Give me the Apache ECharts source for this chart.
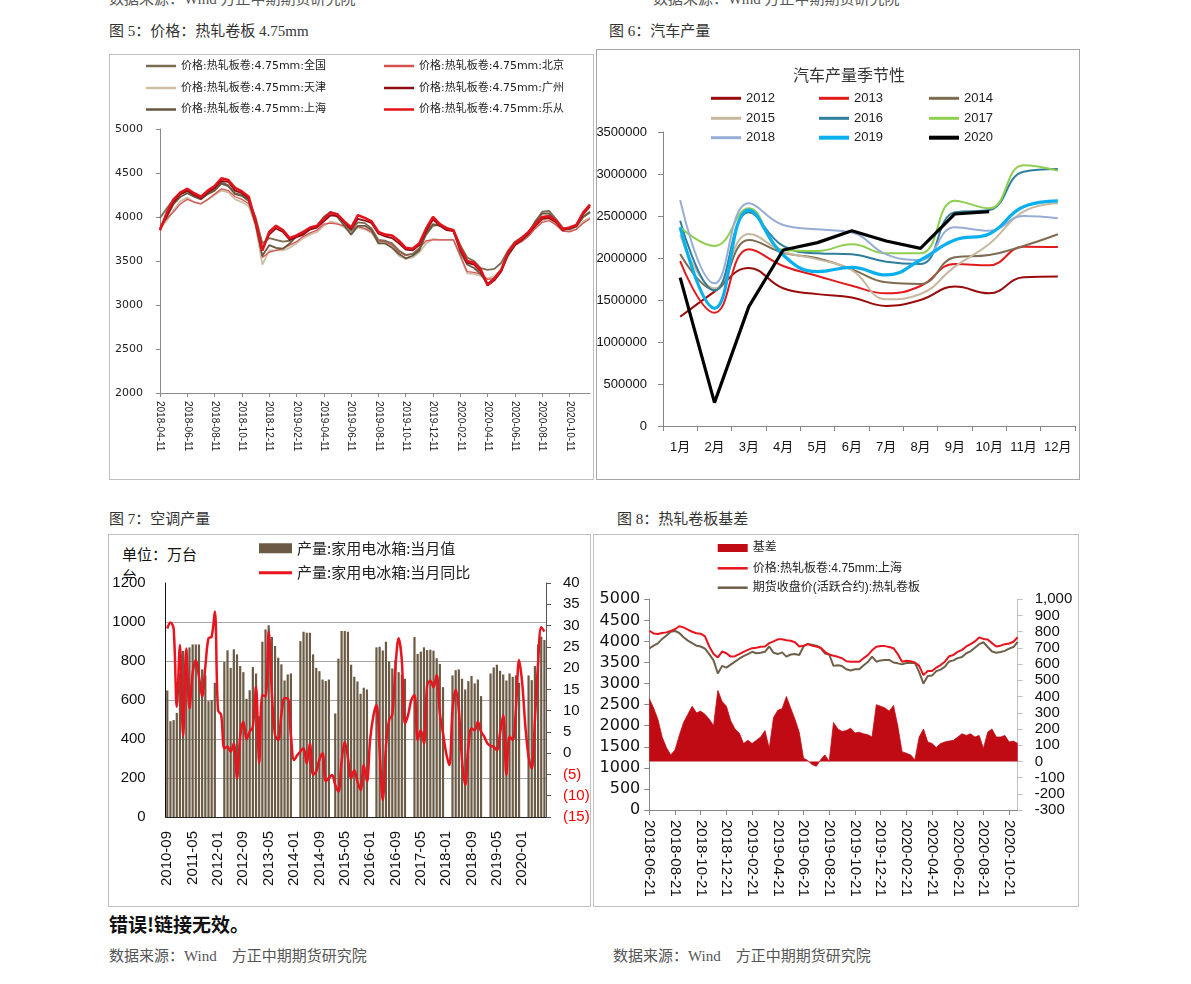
<!DOCTYPE html>
<html><head><meta charset="utf-8">
<script src="https://cdn.jsdelivr.net/npm/echarts@6/dist/echarts.min.js"></script>
<style>
body{margin:0;background:#fff;width:1191px;height:984px;position:relative;overflow:hidden;}
.t{position:absolute;white-space:nowrap;font-size:15px;line-height:20px;color:#333;font-family:"Liberation Serif","Noto Sans CJK SC",serif;}
.box{position:absolute;box-sizing:border-box;border:1px solid #BFBFBF;}
.ch{position:absolute;}
.s{position:absolute;white-space:nowrap;font-size:15px;line-height:20px;color:#111;font-family:"Noto Sans CJK SC",sans-serif;}
</style></head><body>
<div class="t" style="left:109px;top:-11px;color:#555">数据来源：Wind 方正中期期货研究院</div>
<div class="t" style="left:653px;top:-11px;color:#555">数据来源：Wind 方正中期期货研究院</div>
<div class="t" style="left:109px;top:21px">图 5：价格：热轧卷板 4.75mm</div>
<div class="t" style="left:609px;top:21px">图 6：汽车产量</div>
<div class="t" style="left:109px;top:509px">图 7：空调产量</div>
<div class="t" style="left:617px;top:509px">图 8：热轧卷板基差</div>
<div class="t" style="left:109px;top:914px;font-size:19px;font-weight:bold;color:#111;font-family:'Noto Sans CJK SC',sans-serif">错误!链接无效。</div>
<div class="t" style="left:109px;top:946px;color:#555">数据来源：Wind　方正中期期货研究院</div>
<div class="t" style="left:613px;top:946px;color:#555">数据来源：Wind　方正中期期货研究院</div>

<div class="box" style="left:109px;top:54px;width:485px;height:426px"></div>
<div class="box" style="left:596px;top:49px;width:484px;height:431px;border-color:#A6A6A6"></div>
<div class="box" style="left:108px;top:534px;width:483px;height:373px"></div>
<div class="box" style="left:593px;top:534px;width:486px;height:373px"></div>

<div class="s" style="left:122px;top:544px">单位：万台</div>
<div class="s" style="left:122px;top:566px;height:12px;overflow:hidden">台</div>

<div id="c1" class="ch" style="left:109px;top:54px;width:485px;height:426px"></div>
<div id="c2" class="ch" style="left:596px;top:49px;width:484px;height:430px"></div>
<div id="c3" class="ch" style="left:108px;top:534px;width:482px;height:373px"></div>
<div id="c4" class="ch" style="left:593px;top:534px;width:485px;height:373px"></div>

<script>
// ---------- Chart 1: 热轧卷板 4.75mm prices ----------
const c1Dates = "2018-04-11 2018-04-26 2018-05-11 2018-05-26 2018-06-11 2018-06-26 2018-07-11 2018-07-26 2018-08-11 2018-08-26 2018-09-11 2018-09-26 2018-10-11 2018-10-26 2018-11-11 2018-11-26 2018-12-11 2018-12-26 2019-01-11 2019-01-26 2019-02-11 2019-02-26 2019-03-11 2019-03-26 2019-04-11 2019-04-26 2019-05-11 2019-05-26 2019-06-11 2019-06-26 2019-07-11 2019-07-26 2019-08-11 2019-08-26 2019-09-11 2019-09-26 2019-10-11 2019-10-26 2019-11-11 2019-11-26 2019-12-11 2019-12-26 2020-01-11 2020-01-26 2020-02-11 2020-02-26 2020-03-11 2020-03-26 2020-04-11 2020-04-26 2020-05-11 2020-05-26 2020-06-11 2020-06-26 2020-07-11 2020-07-26 2020-08-11 2020-08-26 2020-09-11 2020-09-26 2020-10-11 2020-10-26 2020-11-11 2020-11-18".split(" ");
const c1Quanguo = [3990,4100,4200,4260,4290,4240,4220,4270,4310,4400,4360,4270,4250,4190,4000,3700,3760,3740,3720,3730,3780,3820,3860,3890,3980,4050,4010,3930,3840,3940,3930,3870,3740,3730,3700,3620,3570,3580,3640,3800,3900,3910,3880,3850,3680,3540,3500,3420,3400,3410,3480,3620,3720,3770,3830,3950,4060,4070,3980,3880,3870,3900,4000,4050];
const c1Beijing = [3900,3980,4060,4150,4200,4170,4150,4200,4260,4320,4300,4230,4200,4150,3950,3540,3600,3620,3640,3680,3720,3780,3820,3850,3920,3930,3920,3900,3850,3890,3870,3830,3720,3720,3680,3600,3560,3580,3650,3730,3740,3740,3740,3740,3560,3380,3370,3350,3290,3300,3380,3570,3680,3720,3780,3870,3940,3960,3910,3840,3830,3860,3930,3980];
const c1Tianjin = [3870,3960,4080,4180,4220,4170,4150,4200,4250,4300,4280,4200,4170,4120,3900,3460,3620,3620,3620,3650,3700,3760,3800,3830,3900,3950,3930,3880,3820,3880,3860,3820,3700,3700,3660,3560,3520,3540,3600,3700,3750,3740,3740,3740,3550,3360,3350,3330,3300,3330,3400,3580,3680,3730,3790,3880,3960,3980,3920,3840,3840,3860,3950,3990];
const c1Guangzhou = [3860,4020,4170,4260,4300,4250,4210,4280,4330,4410,4400,4300,4270,4210,3940,3640,3800,3870,3830,3740,3770,3800,3860,3880,3950,4020,4010,3940,3860,3980,3960,3930,3810,3780,3760,3700,3630,3620,3680,3840,3970,3900,3850,3840,3630,3480,3460,3380,3220,3280,3380,3580,3680,3740,3810,3900,3980,3990,3940,3850,3870,3900,4030,4120];
const c1Shanghai = [3870,4000,4150,4230,4270,4230,4200,4260,4300,4380,4350,4260,4240,4180,3920,3560,3680,3650,3640,3700,3780,3820,3860,3900,4000,4060,4000,3900,3800,3900,3900,3850,3700,3700,3650,3580,3530,3560,3620,3820,3920,3900,3870,3840,3600,3460,3420,3350,3240,3310,3400,3560,3680,3740,3810,3950,4040,4040,3960,3860,3860,3890,4000,4060];
const c1Lecong = [3850,4050,4200,4280,4320,4270,4230,4300,4350,4440,4420,4330,4290,4230,3950,3620,3830,3900,3850,3760,3790,3830,3880,3900,3980,4050,4030,3950,3880,4020,3990,3950,3830,3800,3790,3730,3650,3640,3700,3870,4000,3920,3870,3850,3650,3500,3480,3400,3230,3300,3400,3600,3700,3760,3830,3920,4000,4010,3960,3860,3880,3910,4050,4140];
const c1Names = ['价格:热轧板卷:4.75mm:全国','价格:热轧板卷:4.75mm:北京','价格:热轧板卷:4.75mm:天津','价格:热轧板卷:4.75mm:广州','价格:热轧板卷:4.75mm:上海','价格:热轧板卷:4.75mm:乐从'];

// ---------- Chart 2: 汽车产量季节性 ----------
const c2Months = ['1月','2月','3月','4月','5月','6月','7月','8月','9月','10月','11月','12月'];
const c2Years = ['2012','2013','2014','2015','2016','2017','2018','2019','2020'];
const y2012 = [1300000,1600000,1880000,1640000,1570000,1530000,1430000,1500000,1660000,1580000,1770000,1780000];
const y2013 = [1964000,1349000,2103000,1905000,1786000,1670000,1580000,1667000,1929000,1913000,2135000,2131000];
const y2014 = [2048000,1619000,2214000,2063000,1996000,1865000,1710000,1690000,2008000,2036000,2143000,2282000];
const y2015 = [2274000,1639000,2286000,2075000,1984000,1857000,1508000,1571000,1897000,2167000,2552000,2651000];
const y2016 = [2444000,1611000,2544000,2143000,2056000,2044000,1956000,1929000,2544000,2571000,3028000,3060000];
const y2017 = [2365000,2143000,2591000,2095000,2083000,2163000,2056000,2056000,2683000,2591000,3103000,3040000];
const y2018 = [2690000,1698000,2651000,2393000,2341000,2302000,2044000,1976000,2365000,2325000,2500000,2472000];
const y2019 = [2365000,1401000,2571000,2036000,1837000,1889000,1798000,1976000,2214000,2286000,2611000,2679000];
const y2020 = [1766000,278000,1421000,2095000,2183000,2325000,2202000,2115000,2524000,2552000];

// ---------- Chart 3: 家用电冰箱 产量 ----------
const c3Months = ("2010-09 2010-10 2010-11 2010-12 " +
 "2011-01 2011-02 2011-03 2011-04 2011-05 2011-06 2011-07 2011-08 2011-09 2011-10 2011-11 2011-12 " +
 "2012-01 2012-02 2012-03 2012-04 2012-05 2012-06 2012-07 2012-08 2012-09 2012-10 2012-11 2012-12 " +
 "2013-01 2013-02 2013-03 2013-04 2013-05 2013-06 2013-07 2013-08 2013-09 2013-10 2013-11 2013-12 " +
 "2014-01 2014-02 2014-03 2014-04 2014-05 2014-06 2014-07 2014-08 2014-09 2014-10 2014-11 2014-12 " +
 "2015-01 2015-02 2015-03 2015-04 2015-05 2015-06 2015-07 2015-08 2015-09 2015-10 2015-11 2015-12 " +
 "2016-01 2016-02 2016-03 2016-04 2016-05 2016-06 2016-07 2016-08 2016-09 2016-10 2016-11 2016-12 " +
 "2017-01 2017-02 2017-03 2017-04 2017-05 2017-06 2017-07 2017-08 2017-09 2017-10 2017-11 2017-12 " +
 "2018-01 2018-02 2018-03 2018-04 2018-05 2018-06 2018-07 2018-08 2018-09 2018-10 2018-11 2018-12 " +
 "2019-01 2019-02 2019-03 2019-04 2019-05 2019-06 2019-07 2019-08 2019-09 2019-10 2019-11 2019-12 " +
 "2020-01 2020-02 2020-03 2020-04 2020-05 2020-06 2020-07 2020-08").split(" ");
const c3Output = [649,491,497,534,
 740,852,855,870,885,885,885,757,726,594,600,688,
 null,null,795,855,765,860,834,774,743,606,650,769,
 736,517,899,962,983,923,877,817,783,700,731,736,
 null,null,902,950,945,945,834,765,748,705,697,705,
 null,531,812,954,954,950,781,719,695,632,663,654,
 null,null,870,873,854,899,798,762,805,743,730,709,
 null,null,923,836,848,870,856,858,853,814,785,666,
 null,null,726,753,757,709,654,697,723,685,705,620,
 null,null,736,767,781,750,731,700,736,719,726,688,
 null,null,726,702,774,885,925,908];
const c3Yoy = [29.3,30.7,29.3,10.9,
 25.4,3.9,24.6,10.5,18.8,21.9,18.0,13.3,20.3,27.0,27.4,33.3,
 10.1,9.0,1.1,1.5,0.4,2.3,-5.9,3.9,7.4,3.3,5.1,6.2,
 15.6,-2.4,13.7,13.3,28.6,14.1,4.3,3.1,9.0,12.9,12.9,4.3,
 -1.6,-0.5,0.4,1.2,-2.5,2.3,-5.1,-4.3,-1.5,0,-6.6,-5.8,
 -5.1,-7.5,-9.0,-2.0,2.7,-1.0,-5.9,-4.0,-6.7,-8.7,-2.8,-6.7,
 3.1,8.6,11.3,0.7,-11.0,1.5,7.8,9.0,20.3,27.0,21.9,7.0,
 9.0,12.5,13.7,3.1,5.4,2.3,16.0,17.0,15.5,18.4,9.4,4.7,
 0,-2.8,10.1,14.9,10.1,-1.6,-7.5,1.5,5.8,5.4,7.4,5.1,
 3.9,2.3,1.7,1.5,0.7,4.7,9.0,-5.1,3.9,3.1,10.1,21.9,
 16.4,6.2,-0.8,-3.6,7.8,21.1,29.6,28.6];
const c3Names = ['产量:家用电冰箱:当月值','产量:家用电冰箱:当月同比'];

// ---------- Chart 4: 热轧卷板基差 ----------
const c4Dates = "2018-06-21 2018-07-01 2018-07-11 2018-07-21 2018-08-01 2018-08-11 2018-08-21 2018-09-01 2018-09-11 2018-09-21 2018-10-01 2018-10-11 2018-10-21 2018-11-01 2018-11-11 2018-11-21 2018-12-01 2018-12-11 2018-12-21 2019-01-01 2019-01-11 2019-01-21 2019-02-01 2019-02-11 2019-02-21 2019-03-01 2019-03-11 2019-03-21 2019-04-01 2019-04-11 2019-04-21 2019-05-01 2019-05-11 2019-05-21 2019-06-01 2019-06-11 2019-06-21 2019-07-01 2019-07-11 2019-07-21 2019-08-01 2019-08-11 2019-08-21 2019-09-01 2019-09-11 2019-09-21 2019-10-01 2019-10-11 2019-10-21 2019-11-01 2019-11-11 2019-11-21 2019-12-01 2019-12-11 2019-12-21 2020-01-01 2020-01-11 2020-01-21 2020-02-01 2020-02-11 2020-02-21 2020-03-01 2020-03-11 2020-03-21 2020-04-01 2020-04-11 2020-04-21 2020-05-01 2020-05-11 2020-05-21 2020-06-01 2020-06-11 2020-06-21 2020-07-01 2020-07-11 2020-07-21 2020-08-01 2020-08-11 2020-08-21 2020-09-01 2020-09-11 2020-09-21 2020-10-01 2020-10-11 2020-10-21 2020-11-01 2020-11-11".split(" ");
const c4Spot = [4254,4190,4175,4200,4215,4250,4290,4360,4333,4280,4230,4195,4185,4120,3880,3700,3620,3760,3720,3640,3650,3700,3754,3800,3840,3850,3873,3880,3960,4000,4050,4050,4030,4016,3980,3880,3900,3936,3900,3880,3850,3754,3690,3660,3635,3600,3530,3516,3516,3520,3600,3675,3790,3873,3890,3889,3870,3840,3700,3516,3540,3530,3500,3420,3200,3300,3300,3380,3440,3520,3650,3680,3754,3800,3880,3936,4000,4095,4060,4048,3960,3880,3900,3936,3950,3992,4100];
const c4Futures = [3833,3900,3955,4060,4140,4230,4250,4200,4100,4020,3960,3900,3880,3830,3700,3550,3240,3420,3380,3450,3520,3590,3650,3700,3754,3720,3730,3754,3880,3730,3700,3740,3640,3690,3700,3680,3880,3940,3920,3900,3840,3714,3690,3420,3435,3415,3340,3310,3340,3340,3430,3510,3640,3520,3550,3560,3560,3500,3480,3456,3490,3490,3490,3270,3000,3180,3190,3295,3330,3400,3525,3550,3604,3630,3720,3766,3850,3935,3980,3868,3760,3730,3750,3776,3830,3867,3990];
const c4Basis = [387,330,260,150,85,40,70,160,240,290,340,300,310,290,260,220,438,370,340,250,200,175,110,130,110,130,150,190,80,270,315,325,400,330,260,180,20,5,-20,-30,10,40,0,240,200,185,190,205,175,180,170,165,150,350,340,330,310,345,220,60,50,40,10,150,200,120,110,85,110,120,125,130,150,170,160,170,150,160,80,180,200,150,150,160,120,125,110];
const c4Names = ['基差','价格:热轧板卷:4.75mm:上海','期货收盘价(活跃合约):热轧卷板'];

const CJK = '"Noto Sans CJK SC"';
const fDV = '"DejaVu Sans",' + CJK + ',sans-serif';
const fLS = '"Liberation Sans",' + CJK + ',sans-serif';
const plain = v => String(v);

// one legend component per item, so every entry sits where the reference puts it
function oneLegend(name, left, centerY, fontSize, iconH, fontFamily, iconW) {
  return {left:left, top:centerY - fontSize / 2, padding:0, itemWidth:iconW, itemHeight:iconH, itemGap:0,
    textStyle:{fontSize:fontSize, fontFamily:fontFamily, color:'#222'},
    data:[{name:name, icon:'rect'}]};
}

// ===== Chart 1 =====
(function(){
  const ch = echarts.init(document.getElementById('c1'));
  const cols = ['#7B6B51','#D65252','#CDBFA6','#8C0E12','#66573E','#E3111B'];
  const datas = [c1Quanguo,c1Beijing,c1Tianjin,c1Guangzhou,c1Shanghai,c1Lecong];
  const widths = [1.8,1.3,1.8,1.8,1.8,2.6];
  const legLeft = [37,275,37,275,37,275];
  const legCy = [12,12,34,34,55.5,55.5];
  const drawOrder = [2,1,0,4,3,5];
  ch.setOption({
    animation:false,
    grid:{left:51, top:75, width:430, height:264, containLabel:false, outerBoundsMode:'none'},
    legend: c1Names.map((n,i) => oneLegend(n, legLeft[i], legCy[i], 11, 2.5, fDV, 30)),
    xAxis:{type:'category', data:c1Dates, boundaryGap:false,
      axisLine:{lineStyle:{color:'#8A8A8A'}},
      axisTick:{interval:(i)=>i%4===0, length:4, lineStyle:{color:'#8A8A8A'}},
      axisLabel:{interval:(i)=>i%4===0, rotate:-90, fontSize:10, fontFamily:fLS, color:'#222', margin:8}},
    yAxis:{type:'value', min:2000, max:5000, interval:500, splitLine:{show:false},
      axisLine:{show:true, lineStyle:{color:'#8A8A8A'}},
      axisTick:{show:true, length:4, lineStyle:{color:'#8A8A8A'}},
      axisLabel:{fontSize:11, fontFamily:fDV, color:'#222', margin:17, formatter:plain}},
    series: drawOrder.map(i => ({name:c1Names[i], type:'line', data:datas[i], symbol:'none',
      lineStyle:{color:cols[i], width:widths[i]}, itemStyle:{color:cols[i]}}))
  });
})();

// ===== Chart 2 =====
(function(){
  const ch = echarts.init(document.getElementById('c2'));
  const yData = [y2012,y2013,y2014,y2015,y2016,y2017,y2018,y2019,y2020];
  const colors = ['#990A0A','#E31A1C','#7F6B50','#C7B99F','#2F7F9C','#8ED04E','#98ADD5','#0AB0EE','#000000'];
  const widths = [2,2,2,2,2,2,2,3.2,3.2];
  const colLeft = [115,223,333];
  const rowCy = [49.3,69.3,88.7];
  ch.setOption({
    animation:false,
    graphic:[{type:'text', x:253, y:26, style:{text:'汽车产量季节性', font:'16px "Noto Sans CJK SC"', fill:'#333',
      textAlign:'center', align:'center', textVerticalAlign:'middle', verticalAlign:'middle'}}],
    grid:{left:67, top:83, width:412, height:294, containLabel:false, outerBoundsMode:'none'},
    legend: c2Years.map((y,i) => oneLegend(y, colLeft[i%3], rowCy[Math.floor(i/3)], 13, i>=7 ? 4 : 3, fLS, 30)),
    xAxis:{type:'category', data:c2Months, boundaryGap:true,
      axisLine:{lineStyle:{color:'#868686'}},
      axisTick:{show:true, length:5, lineStyle:{color:'#868686'}},
      axisLabel:{interval:0, fontSize:13, fontFamily:fLS, color:'#111', margin:15}},
    yAxis:{type:'value', min:0, max:3500000, interval:500000, splitLine:{show:false},
      axisLine:{show:true, lineStyle:{color:'#868686'}},
      axisTick:{show:true, length:5, lineStyle:{color:'#868686'}},
      axisLabel:{fontSize:13, fontFamily:fLS, color:'#111', margin:16, formatter:plain}},
    series: c2Years.map((y,i) => ({name:y, type:'line', data:yData[i], symbol:'none',
      smooth: i===8 ? false : 0.45,
      lineStyle:{color:colors[i], width:widths[i]}, itemStyle:{color:colors[i]}, z: i===8 ? 5 : (i===7 ? 4 : 2)}))
  });
})();

// ===== Chart 3 =====
(function(){
  const ch = echarts.init(document.getElementById('c3'));
  ch.setOption({
    animation:false,
    grid:{left:57.7, top:49, width:380.3, height:234, containLabel:false, outerBoundsMode:'none'},
    legend:[oneLegend(c3Names[0], 151, 14.3, 15, 10, CJK + ',sans-serif', 33),
            oneLegend(c3Names[1], 151, 38.7, 15, 3, CJK + ',sans-serif', 33)],
    xAxis:{type:'category', data:c3Months, boundaryGap:true,
      axisLine:{lineStyle:{color:'#222'}},
      axisTick:{interval:7, length:5, lineStyle:{color:'#444'}},
      axisLabel:{interval:7, rotate:90, fontSize:15, fontFamily:fLS, color:'#111', margin:14}},
    yAxis:[{type:'value', min:0, max:1200, interval:200,
      splitLine:{show:true, showMaxLine:false, lineStyle:{color:'#A6A6A6', width:1}},
      axisLine:{show:true, lineStyle:{color:'#111'}}, axisTick:{show:false},
      axisLabel:{fontSize:15, fontFamily:fLS, color:'#111', margin:20, formatter:plain}},
     {type:'value', min:-15, max:40, interval:5, splitLine:{show:false},
      axisLine:{show:true, lineStyle:{color:'#555'}},
      axisTick:{show:true, length:5, lineStyle:{color:'#555'}},
      axisLabel:{fontSize:15, fontFamily:fLS, margin:17,
        formatter:v => (v < 0 ? '(' + (-v) + ')' : String(v)),
        color:v => (Number(v) < 0 ? '#FF0000' : '#111')}}],
    series:[
      {name:c3Names[0], type:'bar', data:c3Output, barCategoryGap:'30%', itemStyle:{color:'#6B5B45'}},
      {name:c3Names[1], type:'line', yAxisIndex:1, data:c3Yoy, symbol:'none', smooth:0.35,
        lineStyle:{color:'#E8141E', width:2.5}, itemStyle:{color:'#E8141E'}, z:5}
    ]
  });
})();

// ===== Chart 4 =====
(function(){
  const ch = echarts.init(document.getElementById('c4'));
  const comma = v => String(v).replace(/\B(?=(\d{3})+(?!\d))/g, ',');
  ch.setOption({
    animation:false,
    grid:{left:56.3, top:65.3, width:368.4, height:210.7, containLabel:false, outerBoundsMode:'none'},
    legend:[oneLegend(c4Names[0], 124.7, 14, 12, 8, fLS, 30),
            oneLegend(c4Names[1], 124.7, 34.3, 12, 2.5, fLS, 30),
            oneLegend(c4Names[2], 124.7, 53.7, 12, 2.5, fLS, 30)],
    xAxis:{type:'category', data:c4Dates, boundaryGap:false,
      axisLine:{lineStyle:{color:'#868686'}},
      axisTick:{interval:(i)=>i%6===0, length:5, lineStyle:{color:'#868686'}},
      axisLabel:{interval:(i)=>i%6===0, rotate:-90, fontSize:15, fontFamily:fLS, color:'#111', margin:10}},
    yAxis:[{type:'value', min:0, max:5000, interval:500, splitLine:{show:false},
      axisLine:{show:true, lineStyle:{color:'#868686'}},
      axisTick:{show:true, length:5, lineStyle:{color:'#868686'}},
      axisLabel:{fontSize:16, fontFamily:fDV, color:'#111', margin:9, formatter:plain}},
     {type:'value', min:-300, max:1000, interval:100, splitLine:{show:false},
      axisLine:{show:true, lineStyle:{color:'#BFBFBF'}},
      axisTick:{show:true, length:5, lineStyle:{color:'#BFBFBF'}},
      axisLabel:{fontSize:15, fontFamily:fLS, color:'#111', margin:17, formatter:comma}}],
    series:[
      {name:c4Names[0], type:'line', yAxisIndex:1, data:c4Basis, symbol:'none',
        lineStyle:{color:'#C00A14', width:0.8}, areaStyle:{color:'#C00A14', opacity:1}, itemStyle:{color:'#C00A14'}},
      {name:c4Names[2], type:'line', data:c4Futures, symbol:'none',
        lineStyle:{color:'#6E6049', width:2}, itemStyle:{color:'#6E6049'}},
      {name:c4Names[1], type:'line', data:c4Spot, symbol:'none',
        lineStyle:{color:'#E8131C', width:2}, itemStyle:{color:'#E8131C'}}
    ]
  });
})();
</script>
</body></html>
